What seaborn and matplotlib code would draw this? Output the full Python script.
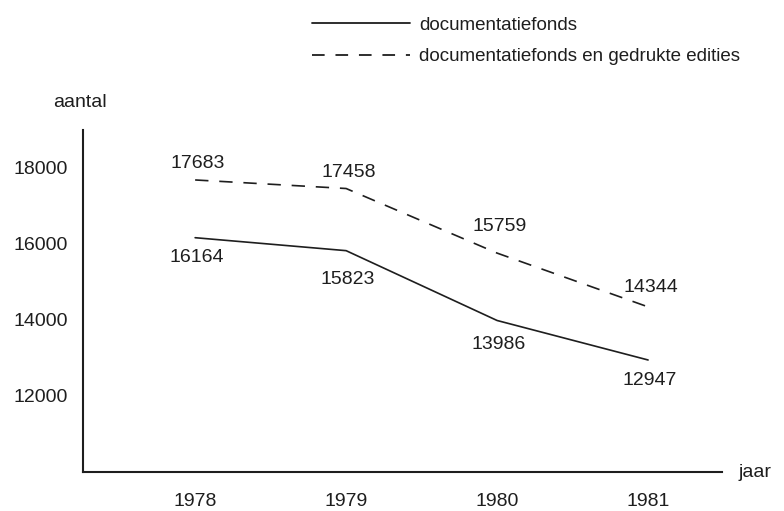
import pandas as pd
import matplotlib
matplotlib.use("Agg")
import matplotlib.pyplot as plt
import seaborn as sns
from matplotlib.lines import Line2D

# ================================
# DATA
# ================================
years = [1978, 1979, 1980, 1981]
fonds = [16164, 15823, 13986, 12947]
fonds_edities = [17683, 17458, 15759, 14344]
series_names = ["documentatiefonds", "documentatiefonds en gedrukte edities"]
y_ticks = [12000, 14000, 16000, 18000]

df = pd.DataFrame({
    "jaar": years * 2,
    "aantal": fonds + fonds_edities,
    "reeks": [series_names[0]] * 4 + [series_names[1]] * 4,
})

# ================================
# FIGURE
# ================================
sns.set_theme(style="white")
plt.rcParams["font.family"] = ["Liberation Sans", "DejaVu Sans"]
ink = "#1e1e1e"

fig = plt.figure(figsize=(7.84, 5.11), dpi=100)
ax = fig.add_axes([0.106, 0.0763, 0.815, 0.6695])

sns.lineplot(data=df, x="jaar", y="aantal", hue="reeks", style="reeks",
             palette=[ink, ink],
             dashes={series_names[0]: "", series_names[1]: (8, 6.5)},
             linewidth=1.2, legend=False, ax=ax)

ax.set_xlim(1977.258, 1981.49)
ax.set_ylim(10000, 19000)
ax.set_xticks(years)
ax.set_yticks(y_ticks)
ax.set_xticklabels([str(y) for y in years])
ax.set_yticklabels([str(v) for v in y_ticks])
ax.tick_params(axis="both", length=0, labelsize=14, colors=ink)
ax.tick_params(axis="x", pad=15)
ax.tick_params(axis="y", pad=11)
ax.set_xlabel("")
ax.set_ylabel("")

for side in ["top", "right"]:
    ax.spines[side].set_visible(False)
for side in ["left", "bottom"]:
    ax.spines[side].set_color(ink)
    ax.spines[side].set_linewidth(1.5)

# axis names
ax.text(-0.005, 1.08, "aantal", transform=ax.transAxes, ha="center", va="center",
        fontsize=14, color=ink)
ax.text(1.025, 0.0, "jaar", transform=ax.transAxes, ha="left", va="center",
        fontsize=14, color=ink)

# value labels (offsets in points)
up = [11.5, 11.5, 19, 14]
down = [14.5, 21, 17.5, 14.5]
for i, yr in enumerate(years):
    ax.annotate(str(fonds_edities[i]), (yr, fonds_edities[i]), xytext=(2, up[i]),
                textcoords="offset points", ha="center", va="center",
                fontsize=14, color=ink)
    ax.annotate(str(fonds[i]), (yr, fonds[i]), xytext=(1, -down[i]),
                textcoords="offset points", ha="center", va="center",
                fontsize=14, color=ink)

# legend
handles = [
    Line2D([], [], color=ink, linewidth=1.3),
    Line2D([], [], color=ink, linewidth=1.3, linestyle=(0, (7, 6))),
]
fig.legend(handles, series_names, loc="upper left",
           bbox_to_anchor=(0.398, 0.967), frameon=False, borderpad=0,
           borderaxespad=0, handlelength=5.2, handletextpad=0.53,
           labelspacing=0.75, prop={"size": 13.5}, labelcolor=ink)

fig.savefig("out.png", dpi=100)
